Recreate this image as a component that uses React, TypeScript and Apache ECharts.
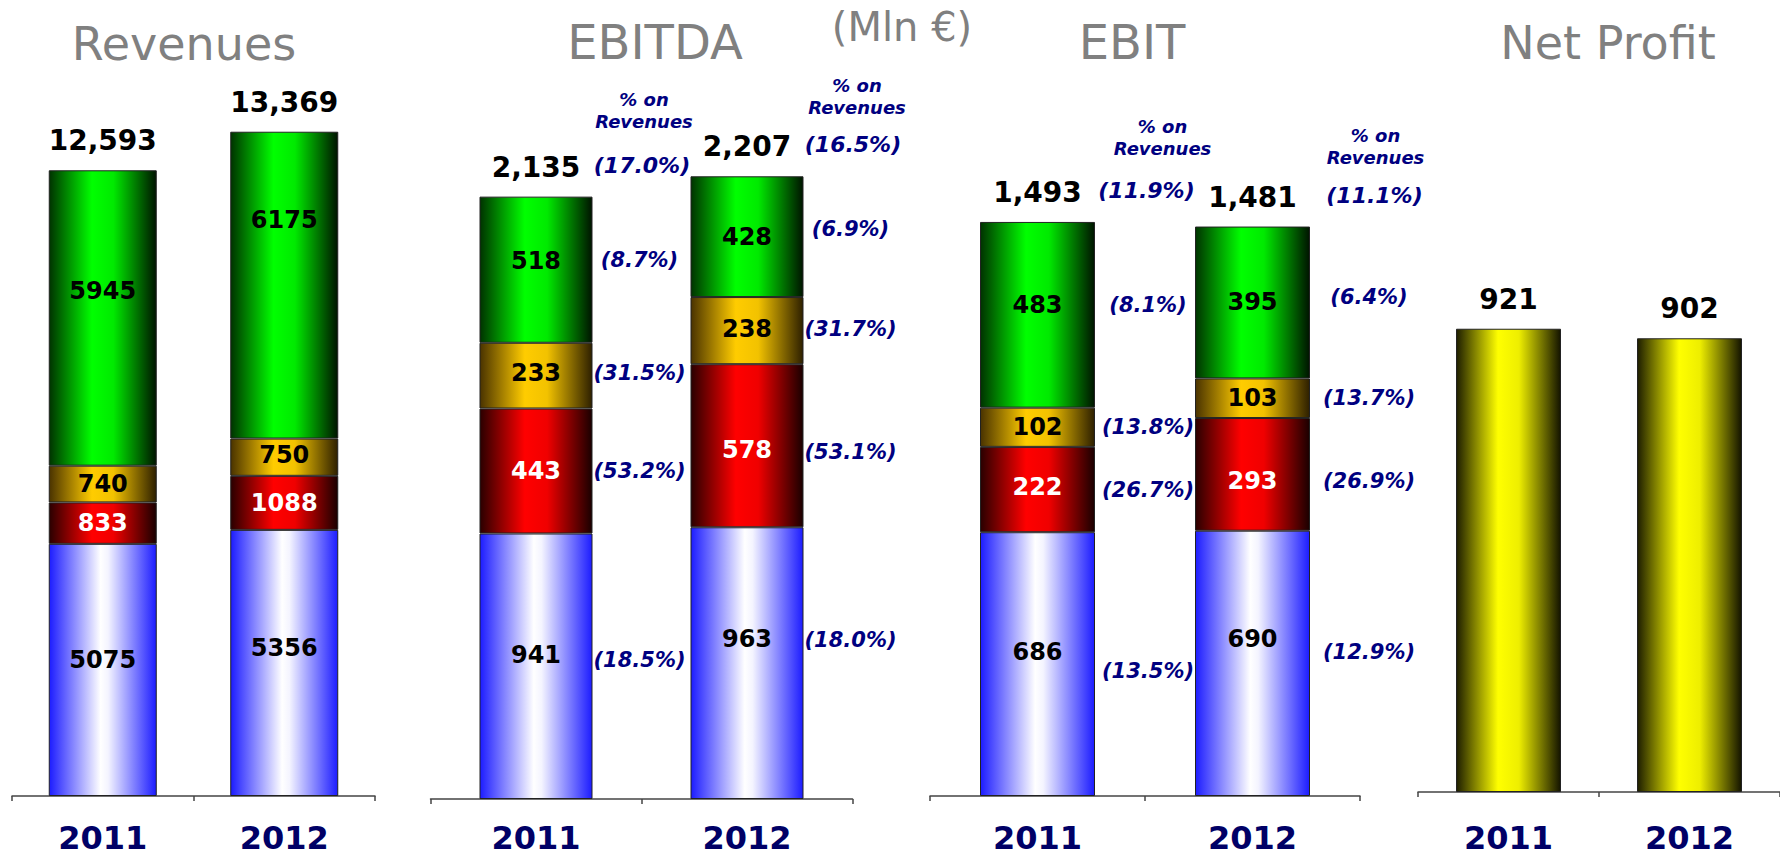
import React, { useEffect, useRef } from 'react';
import * as echarts from 'echarts';

// ---------- data ----------
const years = ['2011', '2012'];

const revBlue = [5075, 5356];
const revRed = [833, 1088];
const revOrange = [740, 750];
const revGreen = [5945, 6175];
const revTotal = [12593, 13369];

const ebitdaBlue = [941, 963];
const ebitdaRed = [443, 578];
const ebitdaOrange = [233, 238];
const ebitdaGreen = [518, 428];
const ebitdaTotal = [2135, 2207];
const ebitdaMargin = ['17.0', '16.5'];
const ebitdaPctBlue = ['18.5', '18.0'];
const ebitdaPctRed = ['53.2', '53.1'];
const ebitdaPctOrange = ['31.5', '31.7'];
const ebitdaPctGreen = ['8.7', '6.9'];

const ebitBlue = [686, 690];
const ebitRed = [222, 293];
const ebitOrange = [102, 103];
const ebitGreen = [483, 395];
const ebitTotal = [1493, 1481];
const ebitMargin = ['11.9', '11.1'];
const ebitPctBlue = ['13.5', '12.9'];
const ebitPctRed = ['26.7', '26.9'];
const ebitPctOrange = ['13.8', '13.7'];
const ebitPctGreen = ['8.1', '6.4'];

const netProfit = [921, 902];

const titles = ['Revenues', 'EBITDA', 'EBIT', 'Net Profit'];
const unitLabel = '(Mln €)';
const marginHeader = '% on\nRevenues';

// ---------- styles / layout ----------
const FONT = "'DejaVu Sans', Verdana, sans-serif";
const NAVY = '#000080';

function grad(stops: [number, string][]) {
  return new echarts.graphic.LinearGradient(
    0, 0, 1, 0,
    stops.map(([offset, color]) => ({ offset, color }))
  );
}

const segLook = [
  { stops: [[0, '#1c1cff'], [0.48, '#ffffff'], [0.55, '#f4f4ff'], [1, '#1c1cff']] as [number, string][], text: '#000' },
  { stops: [[0, '#2a0000'], [0.4, '#ff0000'], [0.6, '#f00000'], [1, '#1a0000']] as [number, string][], text: '#fff' },
  { stops: [[0, '#4a3300'], [0.4, '#ffcc00'], [0.6, '#f2c200'], [1, '#2e2000']] as [number, string][], text: '#000' },
  { stops: [[0, '#003300'], [0.4, '#00ff00'], [0.6, '#00ea00'], [1, '#001400']] as [number, string][], text: '#000' },
];
const yellowStops: [number, string][] = [[0, '#1e1e00'], [0.4, '#ffff00'], [0.6, '#eeee00'], [1, '#141400']];

const panels = [
  { left: 12, right: 1405, top: 1, bottom: 60, max: 16000, barWidth: 108, labelMargin: 26, titleX: 184, titleY: 44, titleSize: 46 },
  { left: 430.5, right: 927.5, top: 9, bottom: 57, max: 2800, barWidth: 113, labelMargin: 23, titleX: 655, titleY: 42, titleSize: 48 },
  { left: 930, right: 420, top: 27, bottom: 60, max: 2000, barWidth: 115, labelMargin: 26, titleX: 1132, titleY: 42, titleSize: 48 },
  { left: 1418, right: -8, top: 37.5, bottom: 64, max: 1500, barWidth: 105, labelMargin: 30, titleX: 1608, titleY: 43, titleSize: 46 },
];

// label nudges (pixels) per panel -> segment [blue, red, orange, green] -> year
const valueLabelDy = [
  [[-10, -15], [0, 0], [0, -2], [-27, -65]],
  [[-11, -24], [0, 4], [-3, -2], [-9, 0]],
  [[-12, -24], [-3, 7], [0, 0], [-10, 0]],
];
const pctLabelDy: Record<number, number[][]> = {
  1: [[-6, -23], [0, 6], [-3, -2], [-10, -8]],
  2: [[7, -11], [0, 7], [0, 0], [-10, -5]],
};
const pctLabelDx: Record<number, number[]> = { 1: [0, 0], 2: [0, 6] };
const marginDx: Record<number, number[]> = { 1: [106, 106], 2: [109, 122] };
const headerDx: Record<number, number[]> = { 1: [108, 110], 2: [125, 123] };
const headerDy: Record<number, number[]> = { 1: [-6, 1], 2: [-4, 0] };

const fmt = (v: number) => v.toLocaleString('en-US');

function segmentSeries(idx: number, segs: number[][]) {
  const p = panels[idx];
  return segs.map((data, s) => ({
    type: 'bar',
    name: `p${idx}s${s}`,
    xAxisIndex: idx,
    yAxisIndex: idx,
    stack: `val${idx}`,
    barWidth: p.barWidth,
    barGap: '-100%',
    data: data.map((v, i) => ({ value: v, label: { offset: [0, valueLabelDy[idx][s][i]] } })),
    itemStyle: { color: grad(segLook[s].stops), borderColor: '#222', borderWidth: 1 },
    label: {
      show: true,
      position: 'inside',
      fontFamily: FONT,
      fontWeight: 'bold',
      fontSize: 24,
      color: segLook[s].text,
    },
    z: 2,
  }));
}

function pctSeries(idx: number, segs: number[][], pcts: string[][], dist: number) {
  const p = panels[idx];
  return segs.map((data, s) => ({
    type: 'bar',
    name: `p${idx}pct${s}`,
    xAxisIndex: idx,
    yAxisIndex: idx,
    stack: `pct${idx}`,
    barWidth: p.barWidth,
    barGap: '-100%',
    silent: true,
    data: data.map((v, i) => ({
      value: v,
      label: { offset: [pctLabelDx[idx][i], pctLabelDy[idx][s][i]] },
    })),
    itemStyle: { color: 'rgba(0,0,0,0)', opacity: 1 },
    label: {
      show: true,
      position: 'right',
      distance: dist,
      align: 'center',
      fontFamily: FONT,
      fontWeight: 'bold',
      fontStyle: 'italic',
      fontSize: 21,
      color: NAVY,
      formatter: (q: any) => `(${pcts[s][q.dataIndex]}%)`,
    },
    z: 1,
  }));
}

function totalSeries(idx: number, totals: number[]) {
  return {
    type: 'scatter',
    xAxisIndex: idx,
    yAxisIndex: idx,
    data: totals,
    symbolSize: 1,
    silent: true,
    itemStyle: { color: 'rgba(0,0,0,0)', opacity: 1 },
    label: {
      show: true,
      position: 'top',
      distance: 15,
      fontFamily: FONT,
      fontWeight: 'bold',
      fontSize: 28,
      color: '#000',
      formatter: (q: any) => fmt(totals[q.dataIndex]),
    },
    z: 5,
  };
}

function marginSeries(idx: number, totals: number[], margins: string[]) {
  return [
    {
      type: 'scatter',
      xAxisIndex: idx,
      yAxisIndex: idx,
      data: totals.map((v, i) => ({ value: v, label: { offset: [marginDx[idx][i], 0] } })),
      symbolSize: 1,
      silent: true,
      itemStyle: { color: 'rgba(0,0,0,0)', opacity: 1 },
      label: {
        show: true,
        position: 'top',
        distance: 20,
        fontFamily: FONT,
        fontWeight: 'bold',
        fontStyle: 'italic',
        fontSize: 22,
        color: NAVY,
        formatter: (q: any) => `(${margins[q.dataIndex]}%)`,
      },
      z: 5,
    },
    {
      type: 'scatter',
      xAxisIndex: idx,
      yAxisIndex: idx,
      data: totals.map((v, i) => ({ value: v, label: { offset: [headerDx[idx][i], headerDy[idx][i]] } })),
      symbolSize: 1,
      silent: true,
      itemStyle: { color: 'rgba(0,0,0,0)', opacity: 1 },
      label: {
        show: true,
        position: 'top',
        distance: 58,
        fontFamily: FONT,
        fontWeight: 'bold',
        fontStyle: 'italic',
        fontSize: 18,
        lineHeight: 22,
        align: 'center',
        color: NAVY,
        formatter: marginHeader,
      },
      z: 5,
    },
  ];
}

export default function App() {
  const ref = useRef<HTMLDivElement>(null);

  useEffect(() => {
    if (!ref.current) return;
    const chart = echarts.init(ref.current, null, { renderer: 'svg' });

    const grid = panels.map((p) => ({ left: p.left, right: p.right, top: p.top, bottom: p.bottom }));
    const xAxis = panels.map((p, i) => ({
      type: 'category',
      gridIndex: i,
      data: years,
      axisLine: { show: true, lineStyle: { color: '#444', width: 1.5 } },
      axisTick: { show: true, length: 5, lineStyle: { color: '#444', width: 1.5 } },
      axisLabel: {
        margin: p.labelMargin,
        fontFamily: FONT,
        fontWeight: 'bold',
        fontSize: 32,
        color: '#000066',
      },
    }));
    const yAxis = panels.map((p, i) => ({
      type: 'value',
      gridIndex: i,
      min: 0,
      max: p.max,
      show: false,
      splitLine: { show: false },
    }));

    const revSegs = [revBlue, revRed, revOrange, revGreen];
    const ebitdaSegs = [ebitdaBlue, ebitdaRed, ebitdaOrange, ebitdaGreen];
    const ebitSegs = [ebitBlue, ebitRed, ebitOrange, ebitGreen];

    const series: any[] = [
      ...segmentSeries(0, revSegs),
      totalSeries(0, revTotal),

      ...segmentSeries(1, ebitdaSegs),
      ...pctSeries(1, ebitdaSegs, [ebitdaPctBlue, ebitdaPctRed, ebitdaPctOrange, ebitdaPctGreen], 47),
      totalSeries(1, ebitdaTotal),
      ...marginSeries(1, ebitdaTotal, ebitdaMargin),

      ...segmentSeries(2, ebitSegs),
      ...pctSeries(2, ebitSegs, [ebitPctBlue, ebitPctRed, ebitPctOrange, ebitPctGreen], 53),
      totalSeries(2, ebitTotal),
      ...marginSeries(2, ebitTotal, ebitMargin),

      {
        type: 'bar',
        xAxisIndex: 3,
        yAxisIndex: 3,
        barWidth: panels[3].barWidth,
        data: netProfit,
        itemStyle: { color: grad(yellowStops), borderColor: '#222', borderWidth: 1 },
        label: { show: false },
      },
      totalSeries(3, netProfit),
    ];

    const txt = (text: string, x: number, y: number, size: number) => ({
      type: 'text',
      x,
      y,
      silent: true,
      style: {
        text,
        fontSize: size,
        fontFamily: FONT,
        fill: '#808080',
        align: 'center',
        verticalAlign: 'middle',
        textAlign: 'center',
        textVerticalAlign: 'middle',
      },
    });

    const graphic = [
      ...panels.map((p, i) => txt(titles[i], p.titleX, p.titleY, p.titleSize)),
      txt(unitLabel, 902, 27, 40),
    ];

    chart.setOption({
      animation: false,
      backgroundColor: '#ffffff',
      grid,
      xAxis,
      yAxis,
      series,
      graphic,
    });

    return () => chart.dispose();
  }, []);

  return (
    <div
      ref={ref}
      style={{ position: 'absolute', left: 0, top: 0, width: 1780, height: 856, overflow: 'hidden' }}
    />
  );
}
